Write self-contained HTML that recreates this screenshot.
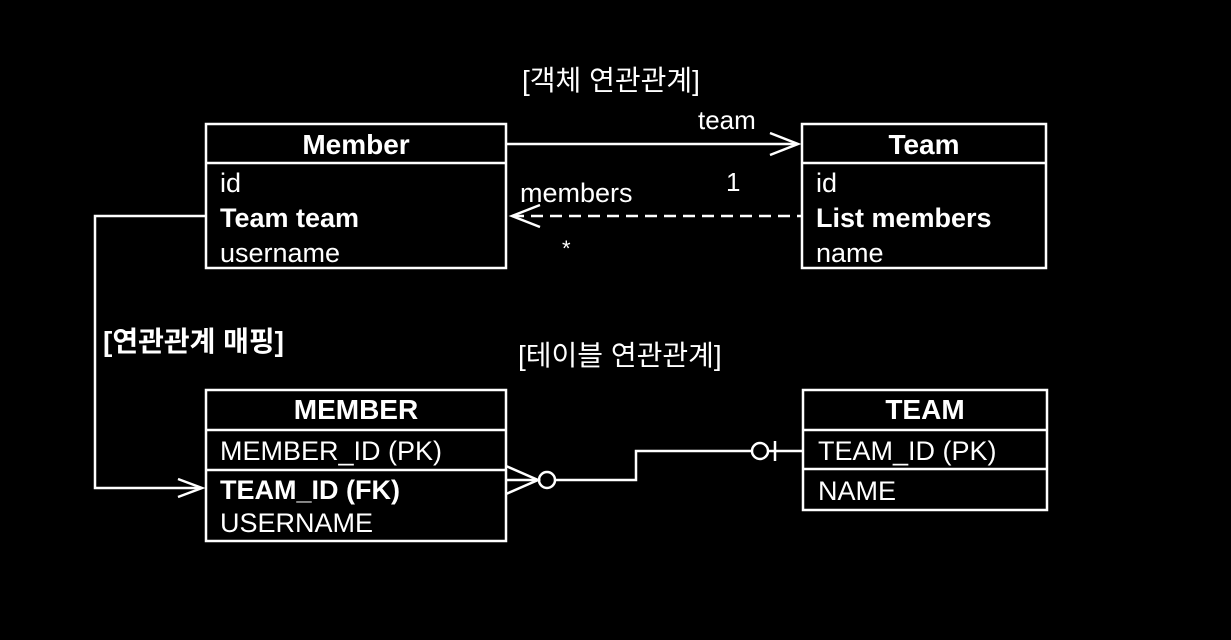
<!DOCTYPE html>
<html><head><meta charset="utf-8">
<style>
html,body{margin:0;padding:0;background:#000;width:1231px;height:640px;overflow:hidden}
svg{display:block}
text{font-family:"Liberation Sans","Noto Sans CJK KR",sans-serif;fill:#fff}
.b{font-weight:bold}
</style></head><body>
<svg width="1231" height="640" viewBox="0 0 1231 640" xmlns="http://www.w3.org/2000/svg">
<g stroke="#fff" stroke-width="2.5" fill="none">
<!-- Member -->
<rect x="206" y="124" width="300" height="144"/>
<line x1="206" y1="163" x2="506" y2="163"/>
<!-- Team -->
<rect x="802" y="124" width="244" height="144"/>
<line x1="802" y1="163" x2="1046" y2="163"/>
<!-- MEMBER -->
<rect x="206" y="390" width="300" height="151"/>
<line x1="206" y1="430" x2="506" y2="430"/>
<line x1="206" y1="470" x2="506" y2="470"/>
<!-- TEAM -->
<rect x="803" y="390" width="244" height="120"/>
<line x1="803" y1="430" x2="1047" y2="430"/>
<line x1="803" y1="469" x2="1047" y2="469"/>
<!-- team arrow -->
<line x1="506" y1="144" x2="798" y2="144"/>
<polyline points="770,133 798,144 770,155"/>
<!-- members dashed -->
<line x1="512" y1="216" x2="802" y2="216" stroke-dasharray="12,7"/>
<polyline points="540,205 512,216 540,227"/>
<!-- mapping connector -->
<polyline points="206,216 95,216 95,488 200,488"/>
<polyline points="178,479 202,488 178,497"/>
<!-- ER connector -->
<polyline points="506,466 538,480 506,494"/>
<line x1="506" y1="480" x2="538" y2="480"/>
<circle cx="547" cy="480" r="8"/>
<polyline points="555,480 636,480 636,451 752,451"/>
<circle cx="760" cy="451" r="8"/>
<line x1="768" y1="451" x2="803" y2="451"/>
<line x1="775" y1="441" x2="775" y2="461"/>
</g>
<text x="356" y="154" font-size="28" text-anchor="middle" class="b">Member</text>
<text x="220" y="192" font-size="27">id</text>
<text x="220" y="227" font-size="27" class="b">Team team</text>
<text x="220" y="262" font-size="27">username</text>
<text x="924" y="154" font-size="28" text-anchor="middle" class="b">Team</text>
<text x="816" y="192" font-size="27">id</text>
<text x="816" y="227" font-size="27" class="b">List members</text>
<text x="816" y="262" font-size="27">name</text>
<text x="356" y="419" font-size="28" text-anchor="middle" class="b">MEMBER</text>
<text x="220" y="460" font-size="27">MEMBER_ID (PK)</text>
<text x="220" y="499" font-size="27" class="b">TEAM_ID (FK)</text>
<text x="220" y="532" font-size="27">USERNAME</text>
<text x="925" y="419" font-size="28" text-anchor="middle" class="b">TEAM</text>
<text x="818" y="460" font-size="27">TEAM_ID (PK)</text>
<text x="818" y="500" font-size="27">NAME</text>
<text x="522" y="90" font-size="28">[객체 연관관계]</text>
<text x="698" y="129" font-size="26">team</text>
<text x="726" y="191" font-size="26">1</text>
<text x="520" y="202" font-size="27">members</text>
<text x="562" y="256" font-size="22">*</text>
<text x="103" y="351" font-size="28" class="b">[연관관계 매핑]</text>
<text x="518" y="365" font-size="28">[테이블 연관관계]</text>
</svg>
</body></html>
